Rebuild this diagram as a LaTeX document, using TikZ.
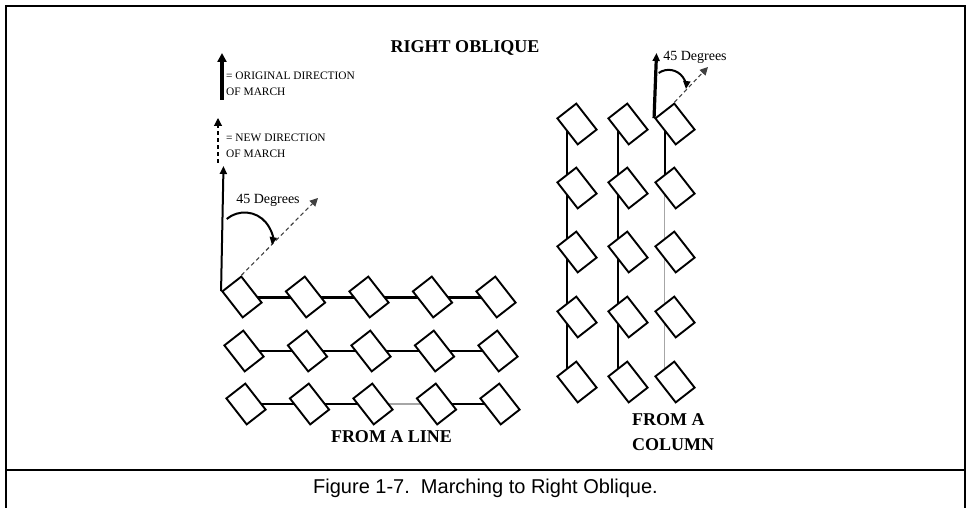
\documentclass[tikz,border=0pt]{standalone}
\usepackage{fontspec}
\setmainfont{Liberation Serif}
\newfontfamily\capfont{Liberation Sans}
\usetikzlibrary{arrows.meta,backgrounds}

\begin{document}
\begin{tikzpicture}[x=1pt,y=1pt,
  man/.style={draw,fill=white,line width=1.9pt,minimum width=33pt,minimum height=24pt,inner sep=0pt,rotate=-52},
  tie/.style={line width=2pt},
  faint/.style={line width=1.6pt,black!35},
  olddir/.style={line width=3.5pt,-{Triangle[length=9pt,width=9pt]}},
  newdir/.style={line width=1.1pt,dash pattern=on 4pt off 3pt,-{Triangle[length=8pt,width=8pt]}},
  turn/.style={line width=2pt,-{Triangle[length=8pt,width=7pt]}},
  note/.style={font=\fontsize{11.4}{16}\selectfont,align=left,anchor=west,inner sep=0pt},
  deg/.style={font=\fontsize{14}{16}\selectfont,inner sep=0pt},
  head/.style={font=\fontsize{18}{25}\selectfont\bfseries,inner sep=0pt}]
\useasboundingbox (0,0) rectangle (970,507);

% frame and caption
\draw[line width=2.5pt] (6,-3) -- (6,501) -- (965,501) -- (965,-3);
\draw[line width=2.5pt] (6,37) -- (965,37);
\node[font=\capfont\fontsize{20}{24}\selectfont] (cap) at (485.5,19) {Figure 1-7.\ \ Marching to Right Oblique.};

\node[head] (title) at (465,459) {RIGHT OBLIQUE};

% legend
\coordinate (o1) at (222,407);
\coordinate (o2) at (222,454);
\draw[olddir] (o1) -- (o2);
\node[note] (oldtxt) at (226,423) {= ORIGINAL DIRECTION\\OF MARCH};
\coordinate (n1) at (218,344);
\coordinate (n2) at (218,389);
\draw[newdir] (n1) -- (n2);
\node[note] (newtxt) at (226,361.5) {= NEW DIRECTION\\OF MARCH};

% from a line
\foreach \r/\y/\x in {1/210/242,2/156/244,3/103/246}
  \foreach \c in {1,...,5}
    \node[man] (ln\r\c) at ({\x+63.5*(\c-1)},\y) {};
\begin{scope}[on background layer]
\foreach \a/\b in {1/2,2/3,3/4,4/5}
  \draw[tie,line width=3pt] (ln1\a.center) -- (ln1\b.center);
\foreach \a/\b in {1/2,2/3,3/4,4/5}
  \draw[tie] (ln2\a.center) -- (ln2\b.center);
\foreach \a/\b/\s in {1/2/tie,2/3/tie,3/4/faint,4/5/tie}
  \draw[\s] (ln3\a.center) -- (ln3\b.center);
\end{scope}
\node[head] (linetxt) at (391.5,70) {FROM A LINE};

% turn from the line
\coordinate (lup) at (223.5,341);
\coordinate (lnew) at (318,309);
\draw[turn] (ln11.south west) -- (lup);
\draw[newdir,black!75] (ln11.north west) -- (lnew);
\draw[turn] (226.7,288) arc[start angle=130,end angle=-10,radius=27.8];
\node[deg] (ldeg) at (268,307) {45 Degrees};

% from a column
\foreach \k/\x in {1/577,2/628,3/675}
  \foreach \r/\y in {1/383,2/319,3/255,4/190,5/125}
    \node[man] (cl\k\r) at (\x,\y) {};
\begin{scope}[on background layer]
\draw[tie] ([xshift=-10.5pt]cl11.center) -- ([xshift=-10.5pt]cl15.center);
\draw[tie] ([xshift=-10.5pt]cl21.center) -- ([xshift=-10.5pt]cl25.center);
\draw[tie] ([xshift=-10.5pt]cl31.center) -- ([xshift=-10.5pt]cl32.center);
\draw[faint] ([xshift=-10.5pt]cl32.center) -- ([xshift=-10.5pt]cl35.center);
\end{scope}
\node[head,align=left,anchor=west] (coltxt) at (632,74.5) {FROM A\\COLUMN};

% turn from the column
\coordinate (cup) at (656.5,454);
\coordinate (cnew) at (708,440);
\draw[turn,line width=3.2pt] (cl31.south west) -- (cup);
\draw[newdir,black!75] (cl31.north west) -- (cnew);
\draw[turn] (658.7,434) arc[start angle=125,end angle=-6,radius=17.4];
\node[deg] (cdeg) at (695,450) {45 Degrees};
\end{tikzpicture}
\end{document}
